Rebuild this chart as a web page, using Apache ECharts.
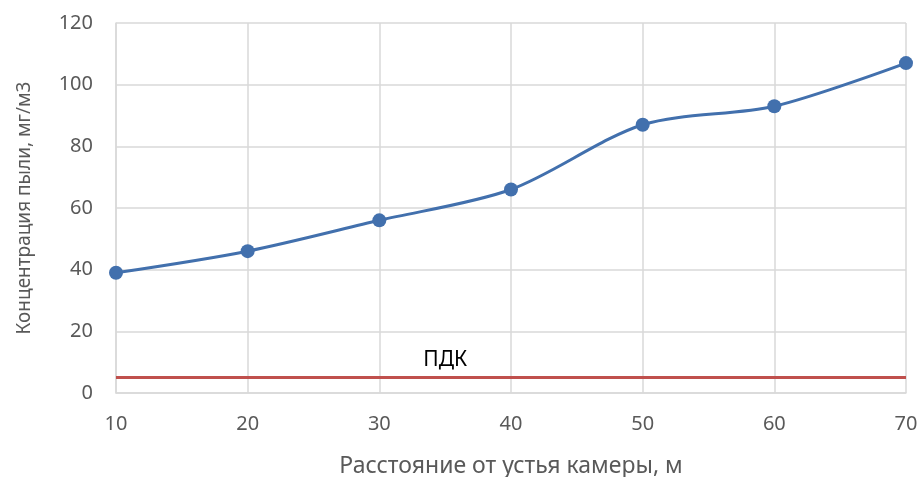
<!DOCTYPE html>
<html>
<head>
<meta charset="utf-8">
<script src="https://cdn.jsdelivr.net/npm/echarts@6/dist/echarts.min.js"></script>
<style>
  html, body { margin: 0; padding: 0; background: #fff; }
  #chart { width: 922px; height: 477px; }
</style>
</head>
<body>
<div id="chart"></div>
<script>
// distances, m
const distances = [10, 20, 30, 40, 50, 60, 70];
// dust concentration, mg/m3
const dust = [39, 46, 56, 66, 87, 93, 107];
// ПДК level
const pdkLevel = 5;
const pdkLabelX = 35;

const font = "'Noto Sans', 'DejaVu Sans', sans-serif";
const gray = '#595959';
const gridColor = '#d9d9d9';

const chart = echarts.init(document.getElementById('chart'));

chart.setOption({
    animation: false,
    grid: { left: 116, right: 16, top: 23, bottom: 84, outerBoundsMode: 'none', containLabel: false },
    xAxis: {
        type: 'value', min: 10, max: 70, interval: 10,
        name: 'Расстояние от устья камеры, м',
        nameLocation: 'middle', nameGap: 62,
        nameTextStyle: { color: gray, fontSize: 23, fontFamily: font },
        axisLine: { show: true, lineStyle: { color: gridColor, width: 1.5 } },
        axisTick: { show: false },
        axisLabel: { color: gray, fontSize: 20, fontFamily: font, margin: 21 },
        splitLine: { show: true, lineStyle: { color: gridColor, width: 1.5 } }
    },
    yAxis: {
        type: 'value', min: 0, max: 120, interval: 20,
        name: 'Концентрация пыли, мг/м3',
        nameLocation: 'middle', nameGap: 82,
        nameTextStyle: { color: gray, fontSize: 19, fontFamily: font },
        axisLine: { show: true, lineStyle: { color: gridColor, width: 1.5 } },
        axisTick: { show: false },
        axisLabel: { color: gray, fontSize: 20, fontFamily: font, margin: 23 },
        splitLine: { show: true, lineStyle: { color: gridColor, width: 1.5 } }
    },
    series: [
        {
            name: 'ПДК',
            type: 'line',
            data: distances.map(d => [d, pdkLevel]),
            showSymbol: false,
            lineStyle: { color: '#c0504d', width: 3 },
            z: 2
        },
        {
            name: 'Концентрация',
            type: 'line',
            data: distances.map((d, i) => [d, dust[i]]),
            smooth: 0.3,
            symbol: 'circle',
            symbolSize: 14,
            itemStyle: { color: '#4270ad' },
            lineStyle: { color: '#4270ad', width: 3 },
            z: 3
        }
    ]
});

const p = chart.convertToPixel({ gridIndex: 0 }, [pdkLabelX, pdkLevel]);
chart.setOption({
    graphic: [{
        type: 'text', x: p[0], y: p[1] - 7,
        style: { text: 'ПДК', fill: '#000', fontSize: 21, fontFamily: font, align: 'center', verticalAlign: 'bottom' }
    }]
});
</script>
</body>
</html>
